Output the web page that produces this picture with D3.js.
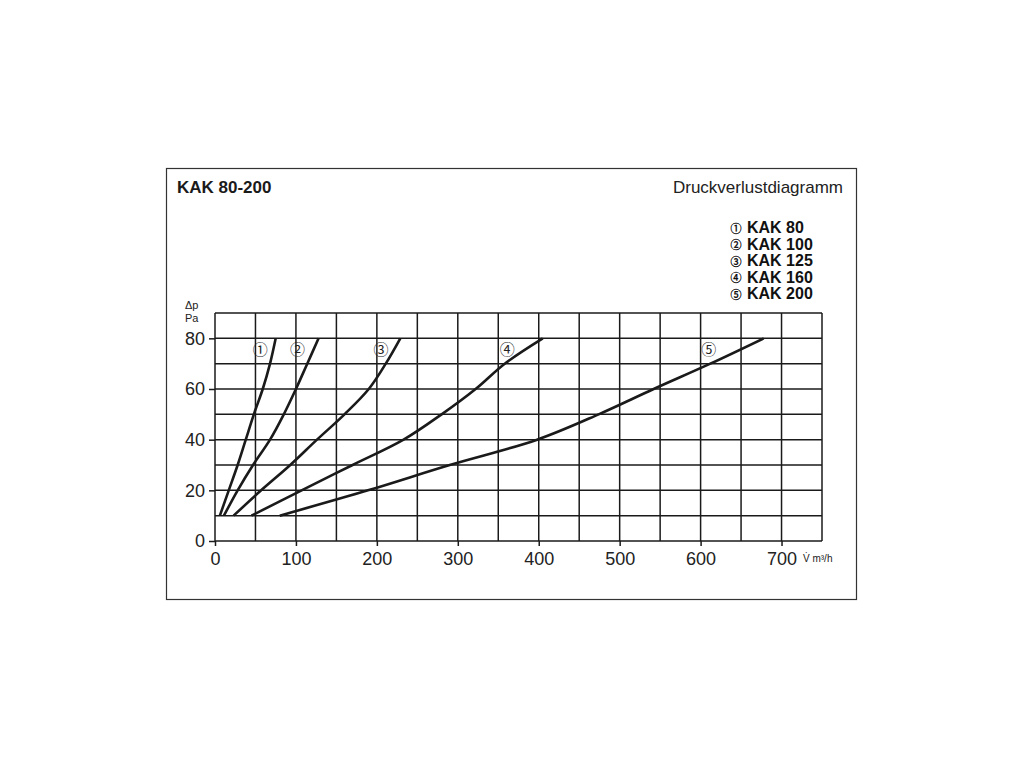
<!DOCTYPE html>
<html>
<head>
<meta charset="utf-8">
<script src="https://cdn.jsdelivr.net/npm/d3@7"></script>
<style>
  html, body { margin: 0; padding: 0; background: #fff; }
  svg { display: block; font-family: "Liberation Sans", Arial, Helvetica, sans-serif; }
</style>
</head>
<body>
<svg id="chart" width="1024" height="768"></svg>
<script>
// ---------- data ----------
const title = "KAK 80-200";
const subtitle = "Druckverlustdiagramm";
const seriesNames = ["KAK 80", "KAK 100", "KAK 125", "KAK 160", "KAK 200"];
const seriesMarks = ["①", "②", "③", "④", "⑤"];
// flow V (m³/h) at pressure drops 10..80 Pa
const pressure = [10, 20, 30, 40, 50, 60, 70, 80];
const flowKAK80  = [6, 17, 28, 38, 48, 59, 68, 75];
const flowKAK100 = [11, 28, 47, 68, 85, 100, 114, 128];
const flowKAK125 = [23, 57, 93, 126, 160, 190, 211, 229];
const flowKAK160 = [45, 107, 170, 233, 280, 322, 358, 405];
const flowKAK200 = [80, 189, 290, 398, 474, 542, 612, 678];
const seriesFlows = [flowKAK80, flowKAK100, flowKAK125, flowKAK160, flowKAK200];
// curve label anchors (flow, pressure)
const labelFlow = [56, 102, 205, 361, 610];
const labelPressure = [76, 76, 76, 76, 76];
const xTicks = [0, 100, 200, 300, 400, 500, 600, 700];
const yTicks = [0, 20, 40, 60, 80];
const xGrid = d3.range(0, 751, 50);
const yGrid = d3.range(0, 91, 10);
const xDomain = [0, 750];
const yDomain = [0, 90];
const yLabel = ["Δp", "Pa"];
const xLabel = "V̇ m³/h";

// ---------- layout ----------
const svg = d3.select("#chart");
const x = d3.scaleLinear().domain(xDomain).range([215, 822]);
const y = d3.scaleLinear().domain(yDomain).range([541, 313]);
const ink = "#1a1a1a";
const markFont = "'Noto Sans CJK JP', 'DejaVu Sans', sans-serif";

// frame
svg.append("rect").attr("x", 166.5).attr("y", 168.5).attr("width", 690).attr("height", 431)
  .attr("fill", "none").attr("stroke", "#333").attr("stroke-width", 1.2);

svg.append("text").attr("x", 177).attr("y", 193).attr("font-size", 17).attr("font-weight", "bold")
  .attr("fill", ink).text(title);
svg.append("text").attr("x", 843).attr("y", 193).attr("font-size", 17).attr("text-anchor", "end")
  .attr("fill", "#222").text(subtitle);

// legend
const legend = svg.append("g");
seriesNames.forEach((n, i) => {
  legend.append("text").attr("x", 736).attr("y", 227.5 + i * 16.6)
    .attr("font-size", 11).attr("font-family", markFont).attr("text-anchor", "middle")
    .attr("dominant-baseline", "central").attr("fill", "#000").attr("stroke", "#000")
    .attr("stroke-width", 0.3).text(seriesMarks[i]);
  legend.append("text").attr("x", 747).attr("y", 233 + i * 16.6)
    .attr("font-size", 16).attr("font-weight", "bold").attr("fill", "#111").text(n);
});

// grid
const grid = svg.append("g").attr("stroke", ink).attr("stroke-width", 1.5);
grid.selectAll(".gx").data(xGrid).join("line")
  .attr("x1", d => x(d)).attr("x2", d => x(d)).attr("y1", y(yDomain[0])).attr("y2", y(yDomain[1]));
grid.selectAll(".gy").data(yGrid).join("line")
  .attr("x1", x(xDomain[0])).attr("x2", x(xDomain[1])).attr("y1", d => y(d)).attr("y2", d => y(d));

// axes
const xAxis = d3.axisBottom(x).tickValues(xTicks).tickSize(5).tickPadding(5).tickFormat(d3.format("d"));
const yAxis = d3.axisLeft(y).tickValues(yTicks).tickSize(6).tickPadding(4).tickFormat(d3.format("d"));
const gx = svg.append("g").attr("transform", `translate(0,${y(0)})`).call(xAxis);
const gy = svg.append("g").attr("transform", `translate(${x(0)},0)`).call(yAxis);
[gx, gy].forEach(g => {
  g.select(".domain").remove();
  g.selectAll(".tick line").attr("stroke", ink).attr("stroke-width", 1.5);
  g.selectAll(".tick text").attr("font-size", 18).attr("fill", "#222")
    .attr("font-family", "'Liberation Sans', Arial, sans-serif");
});
gx.selectAll(".tick text").attr("dy", "0.75em");

// axis labels
svg.append("text").attr("x", 185).attr("y", 309).attr("font-size", 11).attr("fill", "#222").text(yLabel[0]);
svg.append("text").attr("x", 185).attr("y", 322).attr("font-size", 11).attr("fill", "#222").text(yLabel[1]);
svg.append("text").attr("x", 803).attr("y", 562).attr("font-size", 10).attr("fill", "#222").text(xLabel);

// curves
const line = d3.line().x(d => x(d[0])).y(d => y(d[1])).curve(d3.curveCatmullRom.alpha(0.5));
seriesFlows.forEach((f, i) => {
  const pts = f.map((v, j) => [v, pressure[j]]);
  svg.append("path").datum(pts).attr("d", line).attr("fill", "none")
    .attr("stroke", ink).attr("stroke-width", 2.6).attr("stroke-linejoin", "round");
});

// curve labels
seriesMarks.forEach((m, i) => {
  svg.append("text").attr("x", x(labelFlow[i])).attr("y", y(labelPressure[i]))
    .attr("text-anchor", "middle").attr("dominant-baseline", "central")
    .attr("font-size", 15).attr("font-family", markFont).attr("fill", "#222").text(m);
});
</script>
</body>
</html>
